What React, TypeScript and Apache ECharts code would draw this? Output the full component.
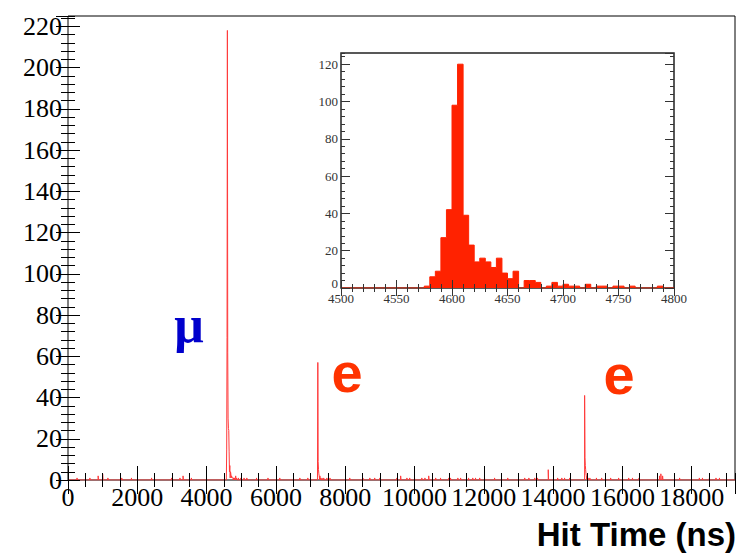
import React, { useEffect, useRef } from "react";
import * as echarts from "echarts";

// ---------- data ----------
// Main histogram: 10 ns bins, [bin start (ns), counts]
const muonBins: [number, number][] = [
  [4570, 1], [4580, 15], [4590, 69], [4600, 218], [4610, 62], [4620, 30],
  [4630, 25], [4640, 24], [4650, 14], [4660, 4], [4670, 7], [4680, 1],
  [4690, 4], [4700, 3], [4710, 1], [4720, 2], [4730, 2], [4740, 1],
  [4750, 1], [4760, 1], [4780, 1], [4810, 1], [4840, 2], [4870, 1],
  [4920, 1], [4990, 1], [5080, 1], [5160, 1],
];
const electron1Bins: [number, number][] = [
  [7200, 1], [7210, 57], [7220, 9], [7230, 5], [7240, 3], [7250, 2],
  [7270, 2], [7290, 1], [7330, 1], [7380, 1],
];
const electron2Bins: [number, number][] = [
  [14910, 41], [14920, 11], [14930, 7], [14940, 5], [14950, 3], [14960, 2],
  [14980, 2], [15010, 1], [15060, 1],
];
const noiseBins: [number, number][] = [
  [260, 1], [630, 1], [870, 2], [1000, 3], [1150, 1], [1550, 1], [1830, 1],
  [2410, 1], [2990, 1], [3230, 1], [3320, 2], [3560, 1], [5440, 1], [5770, 1],
  [6110, 1], [6690, 1], [6920, 1], [7470, 1], [7560, 1], [8130, 1], [8510, 1],
  [8710, 1], [8850, 1], [9000, 1], [9490, 1], [9600, 2], [9780, 1], [9860, 1],
  [10000, 1], [10210, 1], [10300, 1], [10410, 2], [10610, 1], [10750, 1],
  [10990, 1], [11040, 1], [11250, 1], [11330, 1], [11560, 1], [11680, 1],
  [11760, 1], [11880, 1], [12020, 1], [12310, 1], [12690, 1], [13180, 1],
  [13300, 1], [13470, 1], [13550, 1], [13860, 5], [14130, 1], [14250, 1],
  [14330, 1], [14480, 1], [15250, 1], [15400, 1], [15660, 1], [15890, 1],
  [16180, 1], [16290, 1], [16480, 1], [17070, 2], [17110, 3], [17160, 2],
  [17650, 1], [18220, 1], [18310, 1], [18510, 1], [18700, 1], [18800, 1],
];
// Inset histogram: 5 ns bins around the muon peak
const insetBins: [number, number][] = [
  [4575, 1], [4580, 6], [4585, 9], [4590, 27], [4595, 42], [4600, 98],
  [4605, 120], [4610, 39], [4615, 23], [4620, 14], [4625, 16], [4630, 14],
  [4635, 11], [4640, 16], [4645, 8], [4650, 5], [4655, 9], [4665, 4],
  [4670, 4], [4675, 3], [4685, 1], [4690, 3], [4695, 1], [4700, 2],
  [4705, 1], [4710, 1], [4720, 2], [4730, 1], [4735, 1], [4745, 1],
  [4750, 1], [4760, 1], [4785, 1],
];

const MAIN_X = [0, 19250];
const MAIN_Y = [0, 225];
const INSET_X = [4500, 4800];
const INSET_Y = [0, 126];
const MAIN_BIN = 10;
const INSET_BIN = 5;

const AXIS_TITLE = "Hit Time (ns)";
const MU_LABEL = "μ";
const E_LABEL = "e";

function stepPoints(bins: [number, number][], width: number, xMin: number, xMax: number) {
  const sorted = [...bins].sort((a, b) => a[0] - b[0]);
  const pts: number[][] = [[xMin, 0]];
  let end = xMin;
  for (const [x0, v] of sorted) {
    if (x0 > end) {
      pts.push([end, 0]);
      pts.push([x0, 0]);
    }
    pts.push([x0, v]);
    pts.push([x0 + width, v]);
    end = x0 + width;
  }
  pts.push([end, 0]);
  pts.push([xMax, 0]);
  return pts;
}

const tickAxis = (
  gridIndex: number,
  position: string,
  range: number[],
  interval: number,
  len: number,
  color: string,
  label?: any
) => ({
  type: "value",
  gridIndex,
  position,
  min: range[0],
  max: range[1],
  interval,
  offset: 0,
  axisLine: { show: false },
  axisTick: { show: true, inside: true, length: len, lineStyle: { color, width: 1 } },
  axisLabel: label ? label : { show: false },
  splitLine: { show: false },
  minorTick: { show: false },
  z: 5,
});

export default function App() {
  const ref = useRef<HTMLDivElement>(null);
  useEffect(() => {
    if (!ref.current) return;
    const chart = echarts.init(ref.current, null, { renderer: "svg" });
    const mainLabelX = {
      show: true,
      fontFamily: "Liberation Serif",
      fontSize: 26,
      color: "#000",
      margin: 4,
      showMaxLabel: false,
      hideOverlap: false,
      formatter: (v: number) => String(v),
    };
    const mainLabelY = { ...mainLabelX, margin: 6 };
    const insetLabel = {
      show: true,
      fontFamily: "Liberation Serif",
      fontSize: 13,
      color: "#333",
      margin: 4,
      showMaxLabel: true,
      hideOverlap: false,
      formatter: (v: number) => String(v),
    };
    const insetLabelY = {
      ...insetLabel,
      margin: 3,
      showMaxLabel: false,
      formatter: (v: number) => (v === 0 ? "{z|0}" : String(v)),
      rich: {
        z: { fontFamily: "Liberation Serif", fontSize: 13, color: "#333", padding: [0, 0, 9, 0] },
      },
    };

    const allMain = [...muonBins, ...electron1Bins, ...electron2Bins, ...noiseBins];

    const option: any = {
      animation: false,
      backgroundColor: "#fff",
      grid: [
        {
          left: 68, right: 16, top: 16, bottom: 73,
          show: true, borderColor: "#000", borderWidth: 1, backgroundColor: "transparent",
          containLabel: false, outerBoundsMode: "none",
        },
        {
          left: 341, right: 77, top: 53, bottom: 265,
          show: true, borderColor: "#222", borderWidth: 1.5, backgroundColor: "#fff",
          containLabel: false, outerBoundsMode: "none", z: 3,
        },
      ],
      xAxis: [
        tickAxis(0, "bottom", MAIN_X, 2000, 14, "#000", mainLabelX),
        tickAxis(0, "bottom", MAIN_X, 500, 7, "#000"),
        tickAxis(0, "top", MAIN_X, 2000, 14, "#000"),
        tickAxis(0, "top", MAIN_X, 500, 7, "#000"),
        tickAxis(1, "bottom", INSET_X, 50, 8, "#333", insetLabel),
        tickAxis(1, "bottom", INSET_X, 10, 4, "#333"),
        tickAxis(1, "top", INSET_X, 50, 8, "#333"),
        tickAxis(1, "top", INSET_X, 10, 4, "#333"),
      ],
      yAxis: [
        tickAxis(0, "left", MAIN_Y, 20, 12, "#000", mainLabelY),
        tickAxis(0, "left", MAIN_Y, 4, 7, "#000"),
        tickAxis(0, "right", MAIN_Y, 20, 12, "#000"),
        tickAxis(0, "right", MAIN_Y, 4, 7, "#000"),
        tickAxis(1, "left", INSET_Y, 20, 9, "#333", insetLabelY),
        tickAxis(1, "left", INSET_Y, 4, 4, "#333"),
        tickAxis(1, "right", INSET_Y, 20, 9, "#333"),
        tickAxis(1, "right", INSET_Y, 4, 4, "#333"),
      ],
      series: [
        {
          type: "line",
          xAxisIndex: 0,
          yAxisIndex: 0,
          data: stepPoints(allMain, MAIN_BIN, MAIN_X[0], MAIN_X[1]),
          showSymbol: false,
          symbol: "none",
          clip: true,
          lineStyle: { color: "#ff3a3a", width: 1 },
          z: 4,
        },
        {
          type: "line",
          xAxisIndex: 4,
          yAxisIndex: 4,
          data: stepPoints(insetBins, INSET_BIN, INSET_X[0], INSET_X[1]),
          showSymbol: false,
          symbol: "none",
          clip: true,
          lineStyle: { color: "#ff2200", width: 1 },
          areaStyle: { color: "#ff2200", opacity: 1 },
          z: 4,
        },
      ],
      graphic: [
        {
          type: "text",
          style: {
            text: MU_LABEL, x: 189, y: 324,
            font: 'bold 52px "Liberation Serif"', fill: "#0000cc",
            textAlign: "center", textVerticalAlign: "middle",
          },
        },
        {
          type: "text",
          style: {
            text: E_LABEL, x: 347, y: 372,
            font: 'bold 56px "Liberation Sans"', fill: "#ff3300",
            textAlign: "center", textVerticalAlign: "middle",
          },
        },
        {
          type: "text",
          style: {
            text: E_LABEL, x: 619, y: 374,
            font: 'bold 56px "Liberation Sans"', fill: "#ff3300",
            textAlign: "center", textVerticalAlign: "middle",
          },
        },
        {
          type: "text",
          style: {
            text: AXIS_TITLE, x: 736, y: 534,
            font: 'bold 33px "Liberation Sans"', fill: "#000",
            textAlign: "right", textVerticalAlign: "middle",
          },
        },
      ],
    };
    chart.setOption(option);
    return () => chart.dispose();
  }, []);
  return <div ref={ref} style={{ width: 751, height: 553, position: "fixed", left: 0, top: 0 }} />;
}
